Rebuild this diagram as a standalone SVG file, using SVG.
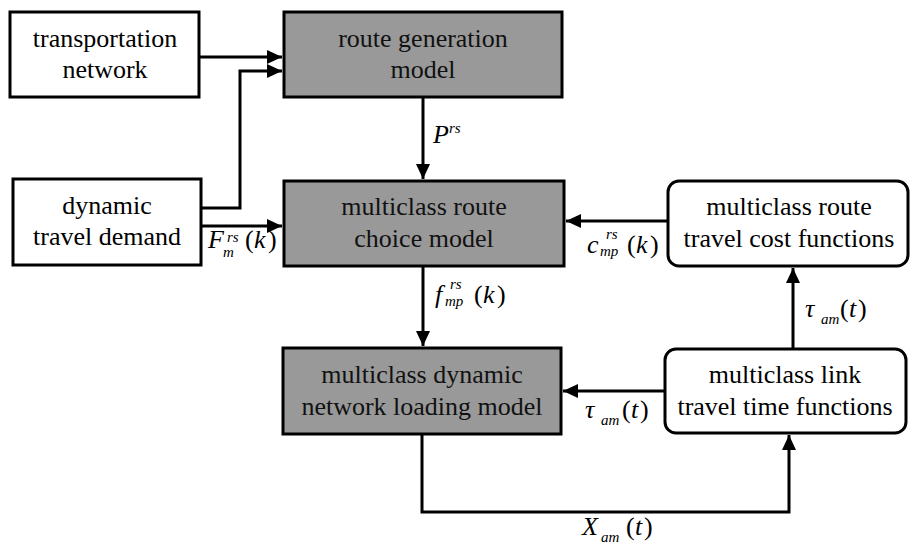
<svg xmlns="http://www.w3.org/2000/svg" width="911" height="544" viewBox="0 0 911 544" font-family="Liberation Serif, Times New Roman, DejaVu Serif, Noto Serif, serif">
<style>
.box{fill:#ffffff;stroke:#000;stroke-width:3}
.gray{fill:#999999;stroke:#000;stroke-width:3}
.t{font-size:26px;fill:#000;text-anchor:middle}
.tg{fill:#111}
.m{font-style:italic;font-size:26px;fill:#000}
.s{font-size:15px}
.n{font-style:normal}
.c{fill:none;stroke:#000;stroke-width:3}
</style>
<defs>
<marker id="ah" markerUnits="userSpaceOnUse" markerWidth="16" markerHeight="14" refX="15" refY="7" orient="auto">
<path d="M0,0 L15,7 L0,14 Z" fill="#000"/>
</marker>
</defs>
<rect width="911" height="544" fill="#fff"/>
<g id="connectors">
<path class="c" d="M199,57 H282" marker-end="url(#ah)"/>
<path class="c" d="M201,208 H240 V71 H282" marker-end="url(#ah)"/>
<path class="c" d="M201,226 H282" marker-end="url(#ah)"/>
<path class="c" d="M423,97 V179" marker-end="url(#ah)"/>
<path class="c" d="M668,221 H566" marker-end="url(#ah)"/>
<path class="c" d="M423,266 V346" marker-end="url(#ah)"/>
<path class="c" d="M793,349 V268" marker-end="url(#ah)"/>
<path class="c" d="M665,391 H563" marker-end="url(#ah)"/>
<path class="c" d="M422,434 V512 H789 V435" marker-end="url(#ah)"/>
</g>
<g id="n-transport">
<rect class="box" x="10" y="12" width="189" height="85"/>
<text class="t" x="105" y="47">transportation</text>
<text class="t" x="105" y="78">network</text>
</g>
<g id="n-routegen">
<rect class="gray" x="284" y="12" width="278" height="85"/>
<text class="t tg" x="423" y="47">route generation</text>
<text class="t tg" x="423" y="78">model</text>
</g>
<g id="n-demand">
<rect class="box" x="13" y="179" width="188" height="86"/>
<text class="t" x="107" y="214">dynamic</text>
<text class="t" x="107" y="245">travel demand</text>
</g>
<g id="n-choice">
<rect class="gray" x="284" y="181" width="280" height="85"/>
<text class="t tg" x="424" y="215">multiclass route</text>
<text class="t tg" x="424" y="247">choice model</text>
</g>
<g id="n-cost">
<rect class="box" x="668" y="181" width="240" height="85" rx="11"/>
<text class="t" x="789" y="215">multiclass route</text>
<text class="t" x="789" y="247">travel cost functions</text>
</g>
<g id="n-loading">
<rect class="gray" x="283" y="348" width="278" height="86"/>
<text class="t tg" x="422" y="383">multiclass dynamic</text>
<text class="t tg" x="422" y="415">network loading model</text>
</g>
<g id="n-link">
<rect class="box" x="665" y="349" width="241" height="84" rx="11"/>
<text class="t" x="785" y="383">multiclass link</text>
<text class="t" x="785" y="415">travel time functions</text>
</g>
<g id="labels">
<text class="m" x="433" y="143">P<tspan class="s" x="449" y="133">rs</tspan></text>
<text class="m" x="208" y="248">F<tspan class="s" x="227" y="242">rs</tspan><tspan class="s" x="223" y="257">m</tspan><tspan class="n" x="245" y="248">(</tspan><tspan x="254" y="248">k</tspan><tspan class="n" x="268" y="248">)</tspan></text>
<text class="m" x="587" y="253">c<tspan class="s" x="606" y="239">rs</tspan><tspan class="s" x="600" y="256">mp</tspan><tspan class="n" x="627" y="253">(</tspan><tspan x="636" y="253">k</tspan><tspan class="n" x="650" y="253">)</tspan></text>
<text class="m" x="435" y="303">f<tspan class="s" x="450" y="289">rs</tspan><tspan class="s" x="445" y="306">mp</tspan><tspan class="n" x="474" y="303">(</tspan><tspan x="483" y="303">k</tspan><tspan class="n" x="497" y="303">)</tspan></text>
<text class="m" x="805" y="317">τ<tspan class="s" x="821" y="324">am</tspan><tspan class="n" x="840" y="317">(</tspan><tspan x="849" y="317">t</tspan><tspan class="n" x="858" y="317">)</tspan></text>
<text class="m" x="585" y="418">τ<tspan class="s" x="601" y="425">am</tspan><tspan class="n" x="622" y="418">(</tspan><tspan x="631" y="418">t</tspan><tspan class="n" x="640" y="418">)</tspan></text>
<text class="m" x="582" y="535">X<tspan class="s" x="601" y="542">am</tspan><tspan class="n" x="626" y="535">(</tspan><tspan x="635" y="535">t</tspan><tspan class="n" x="644" y="535">)</tspan></text>
</g>
</svg>
